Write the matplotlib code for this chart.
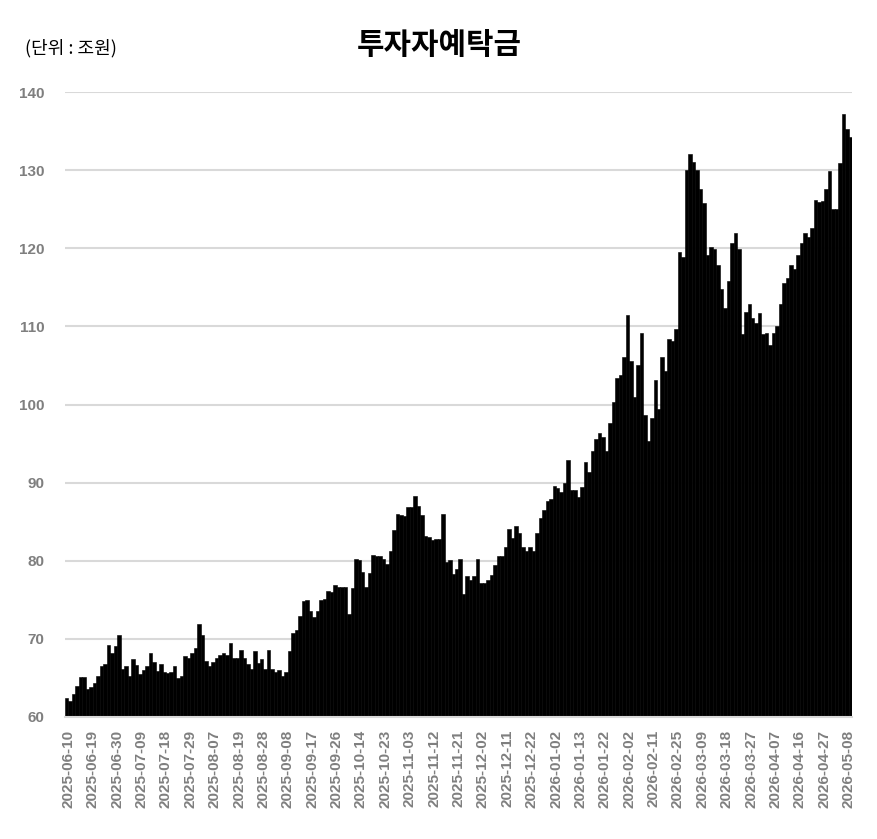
import matplotlib
matplotlib.use("Agg")
import matplotlib.pyplot as plt
import numpy as np

plt.rcParams['font.family'] = ['Liberation Sans', 'Noto Sans CJK KR', 'DejaVu Sans']

title = "투자자예탁금"
unit_label = "(단위 : 조원)"

values = [
    62.4, 62.1, 63.0, 64.0, 65.1, 65.1, 63.6, 63.8, 64.4, 65.2,
    66.5, 66.8, 69.2, 68.2, 69.1, 70.5, 66.2, 66.5, 65.3, 67.4,
    66.7, 65.5, 66.0, 66.5, 68.2, 67.0, 65.9, 66.8, 65.7, 65.6,
    65.8, 66.5, 65.0, 65.3, 67.8, 67.6, 68.2, 68.8, 71.9, 70.5,
    67.2, 66.5, 67.1, 67.6, 67.9, 68.2, 67.9, 69.5, 67.6, 67.5,
    68.6, 67.5, 66.8, 66.2, 68.4, 66.9, 67.4, 66.1, 68.6, 66.2,
    65.8, 66.0, 65.2, 65.8, 68.5, 70.8, 71.2, 72.9, 74.9, 75.0,
    73.6, 72.8, 73.6, 75.0, 75.1, 76.1, 76.0, 76.9, 76.7, 76.7,
    76.6, 73.2, 76.5, 80.2, 80.1, 78.6, 76.7, 78.4, 80.7, 80.6,
    80.6, 80.2, 79.6, 81.2, 84.0, 86.0, 85.9, 85.7, 86.9, 86.9,
    88.3, 87.0, 85.9, 83.2, 83.1, 82.7, 82.8, 82.8, 86.0, 79.9,
    80.1, 78.3, 78.9, 80.2, 75.8, 78.1, 77.5, 78.1, 80.2, 77.1,
    77.1, 77.6, 78.2, 79.5, 80.6, 80.6, 81.8, 84.1, 82.9, 84.4,
    83.5, 81.8, 81.2, 81.8, 81.2, 83.5, 85.5, 86.5, 87.6, 87.9,
    89.6, 89.3, 88.8, 89.9, 92.9, 89.0, 89.0, 88.2, 89.4, 92.7,
    91.3, 94.0, 95.6, 96.4, 95.9, 94.0, 97.6, 100.3, 103.4, 103.8,
    106.1, 111.4, 105.6, 101.0, 105.0, 109.1, 98.7, 95.3, 98.3, 103.2,
    99.4, 106.1, 104.3, 108.4, 108.1, 109.7, 119.5, 118.9, 130.0, 132.1,
    131.0, 130.0, 127.6, 125.8, 119.1, 120.2, 119.9, 117.9, 114.8, 112.4,
    115.8, 120.7, 122.0, 119.9, 109.0, 111.8, 112.9, 111.1, 110.4, 111.7,
    109.0, 109.2, 107.6, 109.1, 110.0, 112.9, 115.5, 116.2, 117.8, 117.3,
    119.2, 120.7, 121.9, 121.4, 122.6, 126.2, 125.9, 126.1, 127.6, 129.9,
    125.0, 125.0, 130.9, 137.2, 135.3, 134.2,
]

tick_labels = [
    "2025-06-10", "2025-06-19", "2025-06-30", "2025-07-09", "2025-07-18",
    "2025-07-29", "2025-08-07", "2025-08-19", "2025-08-28", "2025-09-08",
    "2025-09-17", "2025-09-26", "2025-10-14", "2025-10-23", "2025-11-03",
    "2025-11-12", "2025-11-21", "2025-12-02", "2025-12-11", "2025-12-22",
    "2026-01-02", "2026-01-13", "2026-01-22", "2026-02-02", "2026-02-11",
    "2026-02-25", "2026-03-09", "2026-03-18", "2026-03-27", "2026-04-07",
    "2026-04-16", "2026-04-27", "2026-05-08",
]
tick_step = 7
y_ticks = [60, 70, 80, 90, 100, 110, 120, 130, 140]

fig = plt.figure(figsize=(8.78, 8.39), dpi=100)
ax = fig.add_axes([65/878, 1-717/839, (852-65)/878, (717-92)/839])

x = np.arange(len(values))
base = y_ticks[0]
ax.bar(x, np.array(values) - base, bottom=base, width=1.0, color='black',
       edgecolor='black', linewidth=0.4, zorder=3)

ax.set_xlim(-0.5, len(values) - 0.5)
ax.set_ylim(y_ticks[0], y_ticks[-1])
ax.set_yticks(y_ticks)
ax.set_yticklabels([str(v) for v in y_ticks])
ax.yaxis.grid(True, color='#d9d9d9', linewidth=1.5, zorder=0)
ax.set_axisbelow(True)

tpos = np.arange(len(tick_labels)) * tick_step + 0.5
ax.set_xticks(tpos)
ax.set_xticklabels(tick_labels, rotation=90)

for s in ['top', 'right', 'left']:
    ax.spines[s].set_visible(False)
ax.spines['bottom'].set_color('#d9d9d9')
ax.spines['bottom'].set_linewidth(1.5)
ax.spines['bottom'].set_zorder(4)

ax.tick_params(axis='both', length=0)
ax.tick_params(axis='y', pad=15)
ax.tick_params(axis='x', pad=9)
for lab in ax.get_yticklabels():
    lab.set_fontsize(11)
    lab.set_fontweight('bold')
    lab.set_color('#7f7f7f')
for lab in ax.get_xticklabels():
    lab.set_fontsize(11)
    lab.set_fontweight('bold')
    lab.set_color('#7f7f7f')

fig.text(0.5, 1-45/839, title, ha='center', va='center', fontsize=21.5,
         fontweight='bold', family=['Noto Sans CJK KR', 'DejaVu Sans'])
fig.text(25/878, 1-48/839, unit_label, ha='left', va='center', fontsize=13,
         family=['Noto Sans CJK KR', 'DejaVu Sans'])

fig.savefig('out.png', dpi=100)
